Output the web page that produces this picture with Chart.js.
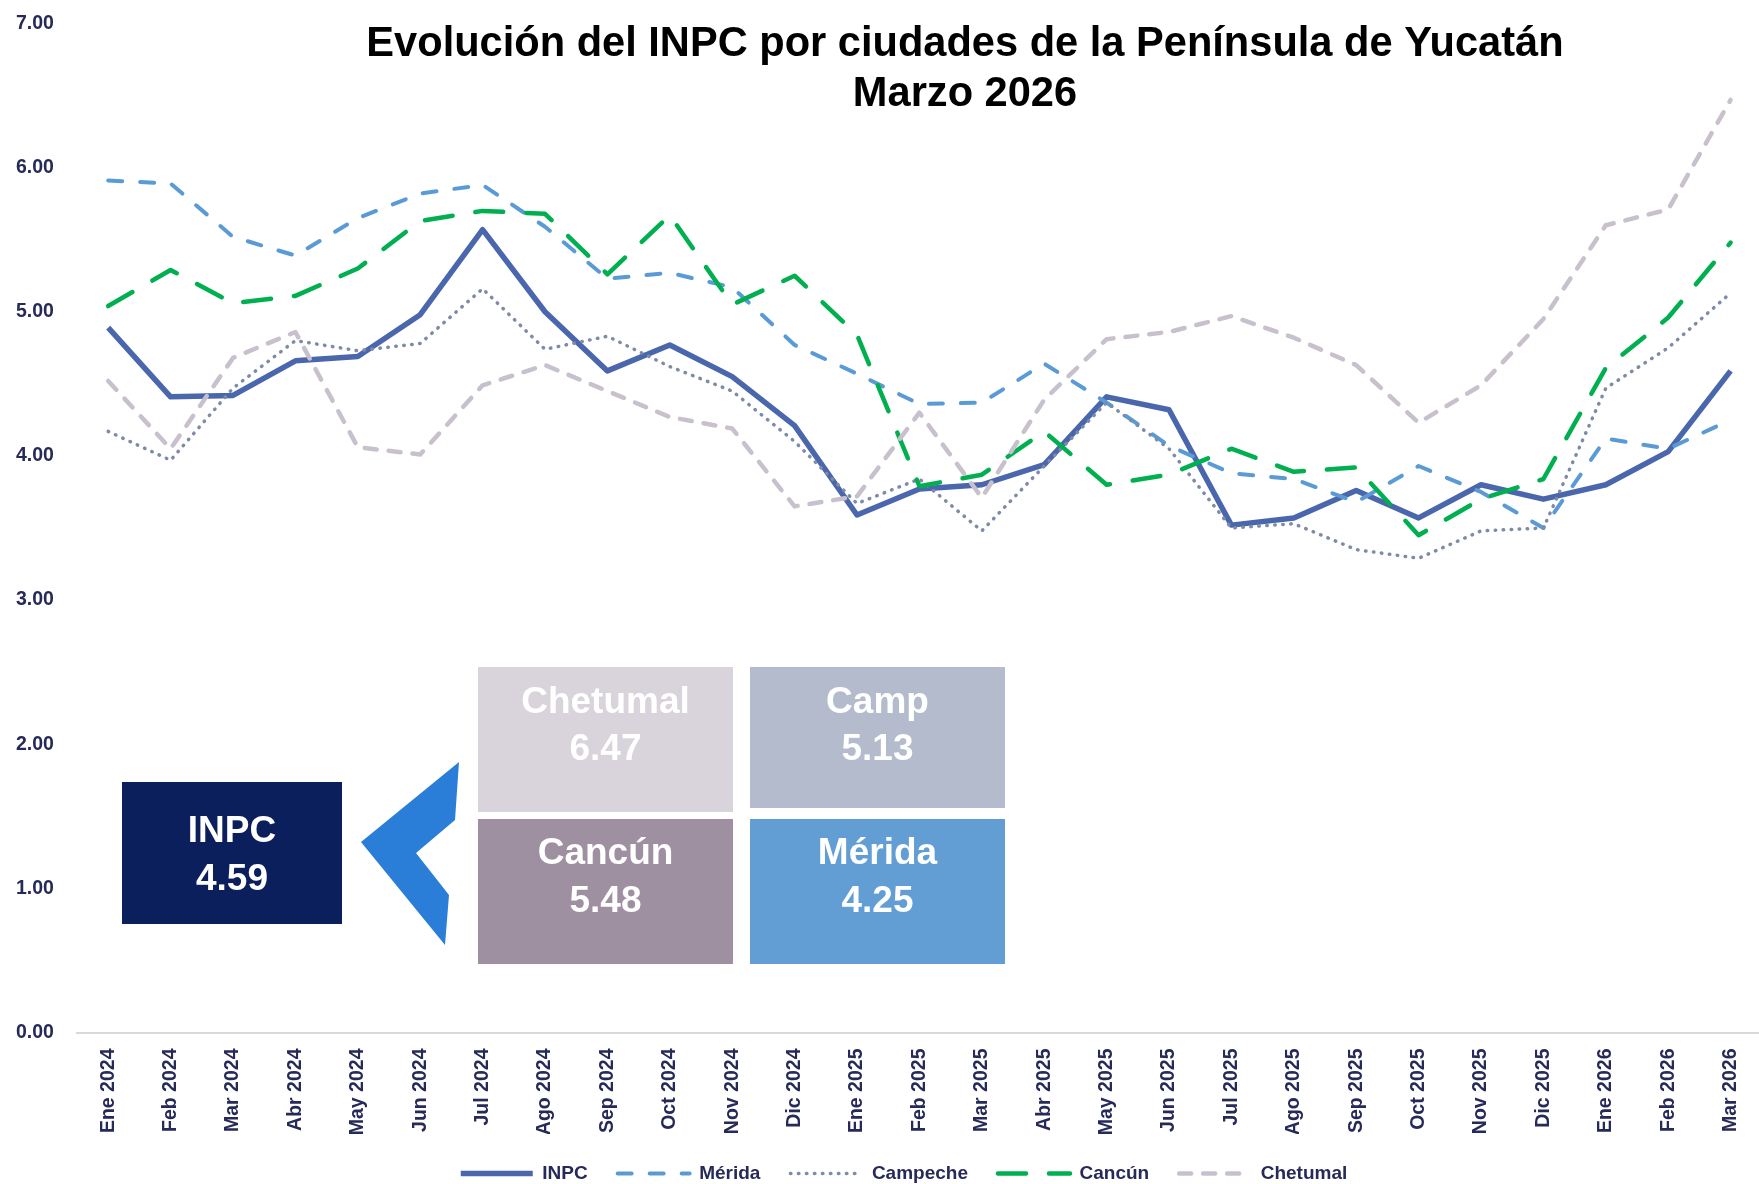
<!DOCTYPE html>
<html>
<head>
<meta charset="utf-8">
<script src="https://cdn.jsdelivr.net/npm/chart.js@4.4.1/dist/chart.umd.min.js"></script>
<style>
html,body{margin:0;padding:0;background:#fff;overflow:hidden;width:1759px;height:1184px}
#c{display:block}
</style>
</head>
<body>
<canvas id="c" width="1770" height="1193"></canvas>
<script>
// ---- data ----
const categories = ['Ene 2024','Feb 2024','Mar 2024','Abr 2024','May 2024','Jun 2024','Jul 2024','Ago 2024','Sep 2024','Oct 2024','Nov 2024','Dic 2024',
  'Ene 2025','Feb 2025','Mar 2025','Abr 2025','May 2025','Jun 2025','Jul 2025','Ago 2025','Sep 2025','Oct 2025','Nov 2025','Dic 2025',
  'Ene 2026','Feb 2026','Mar 2026'];
const inpc     = [4.89,4.41,4.42,4.66,4.69,4.98,5.57,5.00,4.59,4.77,4.55,4.21,3.59,3.77,3.80,3.94,4.41,4.32,3.52,3.57,3.76,3.57,3.80,3.70,3.80,4.03,4.59];
const merida   = [5.91,5.89,5.52,5.39,5.65,5.82,5.88,5.59,5.23,5.27,5.17,4.77,4.57,4.36,4.37,4.64,4.37,4.07,3.88,3.84,3.68,3.93,3.75,3.50,4.12,4.05,4.25];
const campeche = [4.17,3.97,4.47,4.80,4.73,4.78,5.16,4.74,4.83,4.62,4.45,4.10,3.67,3.84,3.48,3.93,4.37,4.05,3.50,3.53,3.35,3.29,3.48,3.50,4.47,4.75,5.13];
const cancun   = [5.04,5.29,5.06,5.11,5.30,5.63,5.70,5.68,5.26,5.67,5.05,5.25,4.84,3.79,3.87,4.17,3.80,3.87,4.05,3.89,3.92,3.45,3.70,3.84,4.61,4.96,5.48];
const chetumal = [4.52,4.05,4.68,4.86,4.06,4.01,4.49,4.63,4.45,4.27,4.19,3.65,3.72,4.30,3.71,4.39,4.81,4.86,4.97,4.82,4.63,4.23,4.49,4.95,5.60,5.71,6.47];
const seriesNames = ['INPC','Mérida','Campeche','Cancún','Chetumal'];
const yTickMin = 0, yTickMax = 7, yTickStep = 1;
const titleLines = ['Evolución del INPC por ciudades de la Península de Yucatán','Marzo 2026'];
const boxLabels = ['INPC','Chetumal','Camp','Cancún','Mérida'];
const boxSeries = [inpc, chetumal, campeche, cancun, merida];

// ---- styling ----
const SANS = "'Liberation Sans',Arial,sans-serif";
const NAVY = '#262A58';

const overlay = {
  id: 'overlay',
  afterLayout(chart) {
    const lg = chart.legend;
    if (lg) { const d = 904 - (lg.left + lg.right) / 2; lg.left += d; lg.right += d; }
  },
  afterDraw(chart) {
    const ctx = chart.ctx;
    ctx.save();
    // title
    ctx.fillStyle = '#000';
    ctx.textAlign = 'center';
    ctx.textBaseline = 'alphabetic';
    ctx.font = 'bold 41.6px ' + SANS;
    ctx.fillText(titleLines[0], 965, 56);
    ctx.fillText(titleLines[1], 965, 106);

    // arrow
    ctx.fillStyle = '#2A7ED7';
    ctx.beginPath();
    ctx.moveTo(459, 762); ctx.lineTo(361, 842); ctx.lineTo(445, 945);
    ctx.lineTo(449, 895); ctx.lineTo(416, 853); ctx.lineTo(455, 820);
    ctx.closePath(); ctx.fill();

    // boxes
    const boxes = [
      {x:122, y:782, w:220, h:142, c:'#0B1F5D', b1:842, b2:890},
      {x:478, y:667, w:255, h:145, c:'#D9D4DB', b1:713, b2:760},
      {x:750, y:667, w:255, h:141, c:'#B3BBCC', b1:713, b2:760},
      {x:478, y:819, w:255, h:145, c:'#9E90A1', b1:864, b2:912},
      {x:750, y:819, w:255, h:145, c:'#629ED3', b1:864, b2:912}
    ];
    ctx.font = 'bold 37px ' + SANS;
    boxes.forEach((b, i) => {
      ctx.fillStyle = b.c;
      ctx.fillRect(b.x, b.y, b.w, b.h);
      ctx.fillStyle = '#fff';
      const cx = b.x + b.w / 2;
      const s = boxSeries[i];
      ctx.fillText(boxLabels[i], cx, b.b1);
      ctx.fillText(s[s.length - 1].toFixed(2), cx, b.b2);
    });
    ctx.restore();
  }
};

const mk = (label, data, color, width, dash, cap, order) => ({
  label, data, borderColor: color, backgroundColor: color, borderWidth: width,
  borderDash: dash, borderCapStyle: cap, borderJoinStyle: 'round',
  pointRadius: 0, pointHoverRadius: 0, fill: false, tension: 0, order
});

new Chart(document.getElementById('c'), {
  type: 'line',
  data: {
    labels: categories,
    datasets: [
      mk(seriesNames[0], inpc, '#4A66AC', 5.5, [], 'butt', 5),
      mk(seriesNames[1], merida, '#5B9BD5', 4, [14, 18], 'round', 4),
      mk(seriesNames[2], campeche, '#7D8BA7', 3.5, [0.5, 7.5], 'round', 3),
      mk(seriesNames[3], cancun, '#00B050', 4.5, [28, 23], 'round', 2),
      mk(seriesNames[4], chetumal, '#C8C1CD', 4.5, [12, 12], 'round', 1)
    ]
  },
  options: {
    responsive: false,
    animation: false,
    events: [],
    layout: { autoPadding: false, padding: { top: 23.5, left: 16, right: 0, bottom: 0 } },
    font: { family: SANS },
    plugins: {
      title: { display: false },
      tooltip: { enabled: false },
      legend: {
        position: 'bottom',
        labels: {
          usePointStyle: true, pointStyle: 'line', pointStyleWidth: 72,
          padding: 30, color: NAVY,
          font: { family: SANS, size: 19, weight: 'bold' },
          sort: (a, b) => a.datasetIndex - b.datasetIndex,
          generateLabels(chart) {
            const items = Chart.defaults.plugins.legend.labels.generateLabels(chart);
            items.forEach(it => {
              const ds = chart.data.datasets[it.datasetIndex];
              it.lineDash = ds.borderDash;
              it.lineWidth = ds.borderWidth;
              it.strokeStyle = ds.borderColor;
              it.fillStyle = ds.borderColor;
              it.lineCap = ds.borderCapStyle;
              it.pointStyle = 'line';
            });
            return items;
          }
        }
      }
    },
    scales: {
      x: {
        offset: true,
        grid: { display: false, drawTicks: false },
        border: { display: true, color: '#D9D9D9', width: 2 },
        ticks: {
          autoSkip: false, minRotation: 90, maxRotation: 90, padding: 16,
          color: NAVY, font: { family: SANS, size: 19.5, weight: 'bold' }
        },
        afterFit(s) { s.height = 101.5; }
      },
      y: {
        min: yTickMin, max: yTickMax,
        grid: { display: false, drawTicks: false },
        border: { display: false },
        ticks: {
          stepSize: yTickStep, padding: 0, crossAlign: 'far', color: NAVY,
          font: { family: SANS, size: 19.5, weight: 'bold' },
          callback: v => Number(v).toFixed(2)
        },
        afterFit(s) { s.width = 61; }
      }
    }
  },
  plugins: [overlay]
});
</script>
</body>
</html>
